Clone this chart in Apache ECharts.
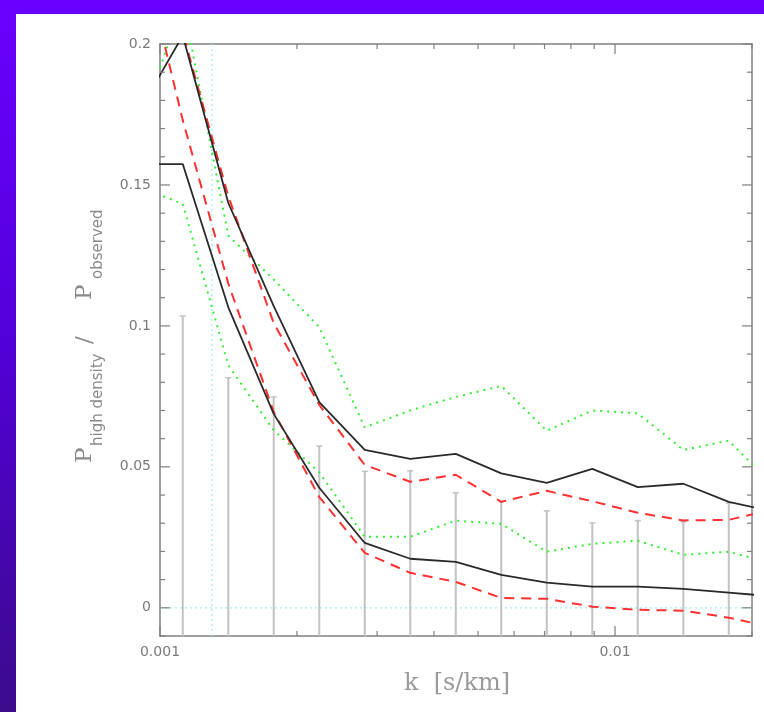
<!DOCTYPE html>
<html><head><meta charset="utf-8">
<script src="https://cdn.jsdelivr.net/npm/echarts@6/dist/echarts.min.js"></script>
<style>
html,body{margin:0;padding:0;width:764px;height:712px;overflow:hidden;background:linear-gradient(to bottom,#6a00ff 0%,#5400dc 45%,#3b0b8c 100%);}
#panel{position:absolute;left:16px;top:14px;width:748px;height:698px;background:#fff;}
#chart{position:absolute;left:0;top:0;width:764px;height:712px;}
</style></head><body>
<div id="panel"></div><div id="chart"></div>
<script>
// ---- data ----
const kValues = [0.000891, 0.001122, 0.001413, 0.001778, 0.002239, 0.002818, 0.003548, 0.004467, 0.005623, 0.007079, 0.008913, 0.01122, 0.01413, 0.01778, 0.02239];
const blackUpper = [0.175, 0.203, 0.1436, 0.107, 0.073, 0.056, 0.0528, 0.0546, 0.0477, 0.0443, 0.0493, 0.0428, 0.044, 0.0376, 0.034];
const blackLower = [0.1574, 0.1574, 0.1066, 0.0688, 0.0426, 0.023, 0.0174, 0.0163, 0.0117, 0.0089, 0.0075, 0.0075, 0.0067, 0.0054, 0.004];
const redUpper = [0.22, 0.204, 0.146, 0.101, 0.072, 0.0507, 0.0447, 0.0472, 0.0376, 0.0415, 0.0378, 0.0337, 0.031, 0.0312, 0.035];
const redLower = [0.24, 0.173, 0.115, 0.0695, 0.0393, 0.0195, 0.0124, 0.0092, 0.0035, 0.0032, 0.0004, -0.0007, -0.001, -0.0035, -0.007];
const greenUpper = [0.168, 0.215, 0.132, 0.1165, 0.0995, 0.064, 0.070, 0.0748, 0.0787, 0.0628, 0.070, 0.069, 0.056, 0.0593, 0.043];
const greenLower = [0.1496, 0.1433, 0.086, 0.063, 0.048, 0.0252, 0.0252, 0.0309, 0.0298, 0.0199, 0.0227, 0.0238, 0.0188, 0.0199, 0.0155];
const errK = [0.001122, 0.001413, 0.001778, 0.002239, 0.002818, 0.003548, 0.004467, 0.005623, 0.007079, 0.008913, 0.01122, 0.01413, 0.01778];
const errTop = [0.1035, 0.0816, 0.0748, 0.0574, 0.0484, 0.0486, 0.0408, 0.0376, 0.0344, 0.0301, 0.0309, 0.0305, 0.0372];
const cyanK = [0.0013];
const cyanY = [0];
const xTickValues = [0.001, 0.002, 0.003, 0.004, 0.005, 0.006, 0.007, 0.008, 0.009, 0.01, 0.02];
const xMajorTicks = [0.001, 0.01];
const xTickLabels = ['0.001', '0.01'];
const yTickLabels = ['0', '0.05', '0.1', '0.15', '0.2'];
const X_MIN = 0.001, X_MAX = 0.02, Y_MIN = -0.01, Y_MAX = 0.2;

const pairs = arr => kValues.map((k, i) => [k, arr[i]]);
const AX = '#808080';

const tickData = [];
for (let i = -1; i <= 20; i++) {
  const v = +(i * 0.01).toFixed(2);
  tickData.push([X_MIN, v, (i % 5 === 0) ? 1 : 0]);
}
xTickValues.forEach(k => tickData.push([k, Y_MIN, xMajorTicks.indexOf(k) >= 0 ? 3 : 2]));

const chart = echarts.init(document.getElementById('chart'), null, {renderer: 'canvas'});

const bigFont = '23px "DejaVu Serif"';
const subFont = '15px "DejaVu Sans"';
const txtCol = '#8a8a8a';
function tok(text, font, x, dy) {
  return {type: 'text', x: x, y: dy, style: {text: text, font: font, fill: txtCol, align: 'left', verticalAlign: 'middle', textAlign: 'left', textVerticalAlign: 'middle'}};
}
const yName = {
  type: 'group', x: 85, y: 463, rotation: Math.PI / 2,
  children: [
    tok('P', bigFont, 0, 0),
    tok('high density', subFont, 17, 13),
    tok('/', bigFont, 119, 0),
    tok('P', bigFont, 163, 0),
    tok('observed', subFont, 184, 13)
  ]
};

const option = {
  backgroundColor: 'transparent',
  animation: false,
  grid: {left: 160, top: 44, width: 592, height: 592, containLabel: false},
  xAxis: [
    {type: 'log', logBase: 10, min: X_MIN, max: X_MAX, position: 'bottom',
     axisLine: {show: true, onZero: false, lineStyle: {color: AX, width: 1.5}},
     axisTick: {show: false}, splitLine: {show: false}, minorTick: {show: false},
     axisLabel: {show: true, color: '#7a7a7a', fontSize: 14, fontFamily: 'DejaVu Sans', margin: 9,
       formatter: function (v) {
         const l = Math.log10(v), e = Math.round(l);
         if (Math.abs(l - e) < 1e-6 && e >= -3 && e <= -2) return xTickLabels[e + 3];
         return '';
       }}},
    {type: 'log', logBase: 10, min: X_MIN, max: X_MAX, position: 'top',
     axisLine: {show: true, onZero: false, lineStyle: {color: AX, width: 1.5}},
     axisTick: {show: false}, splitLine: {show: false}, axisLabel: {show: false}}
  ],
  yAxis: [
    {type: 'value', min: Y_MIN, max: Y_MAX, interval: 0.01, position: 'left',
     axisLine: {show: true, onZero: false, lineStyle: {color: AX, width: 1.5}},
     axisTick: {show: false}, splitLine: {show: false},
     axisLabel: {show: true, color: '#7a7a7a', fontSize: 14, fontFamily: 'DejaVu Sans', margin: 9,
       formatter: function (v) {
         const q = v * 20, r = Math.round(q);
         if (Math.abs(q - r) < 1e-6 && r >= 0 && r <= 4) return yTickLabels[r];
         return '';
       }}},
    {type: 'value', min: Y_MIN, max: Y_MAX, interval: 0.01, position: 'right',
     axisLine: {show: true, onZero: false, lineStyle: {color: AX, width: 1.5}},
     axisTick: {show: false}, splitLine: {show: false}, axisLabel: {show: false}}
  ],
  graphic: [
    yName,
    {type: 'text', x: 457, y: 684, style: {text: 'k  [s/km]', font: '24px "DejaVu Serif"', fill: '#9a9a9a', align: 'center', verticalAlign: 'middle', textAlign: 'center', textVerticalAlign: 'middle'}}
  ],
  series: [
    {type: 'custom', name: 'refs', coordinateSystem: 'cartesian2d', clip: false, z: 1,
     data: cyanK.map((k, i) => [k, cyanY[i]]),
     renderItem: function (p, api) {
       const k = api.value(0), y = api.value(1);
       const a = api.coord([k, Y_MIN]), b = api.coord([k, Y_MAX]);
       const c = api.coord([X_MIN, y]), d = api.coord([X_MAX, y]);
       const st = {stroke: '#9eeeee', lineWidth: 1.2, lineDash: [2, 3]};
       return {type: 'group', children: [
         {type: 'line', shape: {x1: a[0], y1: a[1], x2: b[0], y2: b[1]}, style: st},
         {type: 'line', shape: {x1: c[0], y1: c[1], x2: d[0], y2: d[1]}, style: st}
       ]};
     }},
    {type: 'custom', name: 'errors', coordinateSystem: 'cartesian2d', clip: false, z: 2,
     data: errK.map((k, i) => [k, errTop[i]]),
     renderItem: function (p, api) {
       const k = api.value(0), t = api.value(1);
       const a = api.coord([k, t]), b = api.coord([k, Y_MIN]);
       const st = {stroke: '#c2c2c2', lineWidth: 2};
       return {type: 'group', children: [
         {type: 'line', shape: {x1: a[0], y1: a[1], x2: b[0], y2: b[1]}, style: st},
         {type: 'line', shape: {x1: a[0] - 3, y1: a[1], x2: a[0] + 3, y2: a[1]}, style: {stroke: '#c2c2c2', lineWidth: 1.5}}
       ]};
     }},
    {type: 'line', name: 'greenUpper', data: pairs(greenUpper), showSymbol: false, symbol: 'none', clip: true, z: 3,
     lineStyle: {color: '#33ee33', width: 2, type: [2, 5]}},
    {type: 'line', name: 'greenLower', data: pairs(greenLower), showSymbol: false, symbol: 'none', clip: true, z: 3,
     lineStyle: {color: '#33ee33', width: 2, type: [2, 5]}},
    {type: 'line', name: 'redUpper', data: pairs(redUpper), showSymbol: false, symbol: 'none', clip: true, z: 4,
     lineStyle: {color: '#ff3030', width: 2, type: [10, 7]}},
    {type: 'line', name: 'redLower', data: pairs(redLower), showSymbol: false, symbol: 'none', clip: true, z: 4,
     lineStyle: {color: '#ff3030', width: 2, type: [10, 7]}},
    {type: 'line', name: 'blackUpper', data: pairs(blackUpper), showSymbol: false, symbol: 'none', clip: true, z: 5,
     lineStyle: {color: '#2a2a2a', width: 1.8}},
    {type: 'line', name: 'blackLower', data: pairs(blackLower), showSymbol: false, symbol: 'none', clip: true, z: 5,
     lineStyle: {color: '#2a2a2a', width: 1.8}},
    {type: 'custom', name: 'ticks', coordinateSystem: 'cartesian2d', clip: false, z: 6,
     data: tickData,
     renderItem: function (p, api) {
       const kind = api.value(2);
       const st = {stroke: AX, lineWidth: 1.2};
       if (kind < 2) {
         const v = api.value(1);
         const l = api.coord([X_MIN, v]), r = api.coord([X_MAX, v]);
         const len = kind === 1 ? 10 : 5;
         return {type: 'group', children: [
           {type: 'line', shape: {x1: l[0], y1: l[1], x2: l[0] + len, y2: l[1]}, style: st},
           {type: 'line', shape: {x1: r[0], y1: r[1], x2: r[0] - len, y2: r[1]}, style: st}
         ]};
       }
       const k = api.value(0);
       const b = api.coord([k, Y_MIN]), t = api.coord([k, Y_MAX]);
       const len = kind === 3 ? 10 : 5;
       return {type: 'group', children: [
         {type: 'line', shape: {x1: b[0], y1: b[1], x2: b[0], y2: b[1] - len}, style: st},
         {type: 'line', shape: {x1: t[0], y1: t[1], x2: t[0], y2: t[1] + len}, style: st}
       ]};
     }}
  ]
};
chart.setOption(option);
</script></body></html>
